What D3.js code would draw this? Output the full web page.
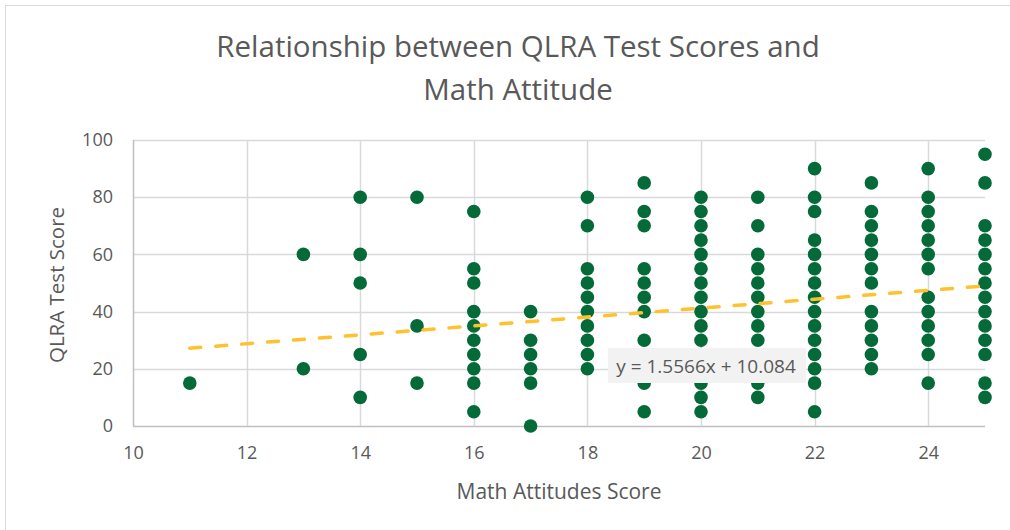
<!DOCTYPE html>
<html>
<head>
<meta charset="utf-8">
<script src="https://cdn.jsdelivr.net/npm/d3@7"></script>
<style>
  body { margin: 0; background: #fff; }
  svg text { font-family: "Open Sans", sans-serif; fill: #595959; }
</style>
</head>
<body>
<svg id="chart"></svg>
<script>
var attitudeScores = [11, 13, 14, 15, 16, 17, 18, 19, 20, 21, 22, 23, 24, 25];
var testScores = [
    [15],
    [60, 20],
    [80, 60, 50, 25, 10],
    [80, 35, 15],
    [75, 55, 50, 40, 35, 30, 25, 20, 15, 5],
    [40, 30, 25, 20, 15, 0],
    [80, 70, 55, 50, 45, 40, 35, 30, 25, 20],
    [85, 75, 70, 55, 50, 45, 40, 30, 20, 15, 5],
    [80, 75, 70, 65, 60, 55, 50, 45, 40, 35, 30, 25, 20, 15, 10, 5],
    [80, 70, 60, 55, 50, 45, 40, 35, 30, 20, 15, 10],
    [90, 80, 75, 65, 60, 55, 50, 45, 40, 35, 30, 25, 20, 15, 5],
    [85, 75, 70, 65, 60, 55, 50, 40, 35, 30, 25, 20],
    [90, 80, 75, 70, 65, 60, 55, 45, 40, 35, 30, 25, 15],
    [95, 85, 70, 65, 60, 55, 50, 45, 40, 35, 30, 25, 15, 10]
];
var xTicks = [10, 12, 14, 16, 18, 20, 22, 24];
var yTicks = [0, 20, 40, 60, 80, 100];
//Trend line from the fitted equation shown on the chart
var trendSlope = 1.5566;
var trendIntercept = 10.084;
var trendLabel = "y = 1.5566x + 10.084";

//Flatten into points
var dataset = [];
attitudeScores.forEach(function(a, i){
    testScores[i].forEach(function(s){
        dataset.push({ x: a, y: s });
    });
});

var dimensions = {
    width: 1010,
    height: 530,
    margin: { top: 140, right: 25, bottom: 104, left: 133 }
};

var xScale = d3.scaleLinear()
    .domain([10, 25])
    .range([dimensions.margin.left, dimensions.width - dimensions.margin.right]);

var yScale = d3.scaleLinear()
    .domain([0, 100])
    .range([dimensions.height - dimensions.margin.bottom, dimensions.margin.top]);

var svg = d3.select("#chart")
    .attr("width", dimensions.width)
    .attr("height", dimensions.height);

//Chart border
svg.append("rect")
    .attr("x", 5.5).attr("y", 5.5)
    .attr("width", 1010).attr("height", 540)
    .attr("fill", "none")
    .attr("stroke", "#d9d9d9");

//Title
var title = svg.append("text")
    .attr("text-anchor", "middle")
    .style("font-size", "29.5px");
title.append("tspan").attr("x", 518).attr("y", 57).text("Relationship between QLRA Test Scores and");
title.append("tspan").attr("x", 518).attr("y", 100).text("Math Attitude");

//Horizontal gridlines
svg.append("g")
    .selectAll("line")
    .data(yTicks)
    .join("line")
    .attr("x1", xScale(10))
    .attr("x2", xScale(25))
    .attr("y1", function(d){ return Math.round(yScale(d)) + 0.5; })
    .attr("y2", function(d){ return Math.round(yScale(d)) + 0.5; })
    .attr("stroke", function(d){ return d === 0 ? "#bfbfbf" : "#d9d9d9"; })
    .attr("stroke-width", 1.5);

//Vertical gridlines
svg.append("g")
    .selectAll("line")
    .data(xTicks)
    .join("line")
    .attr("x1", function(d){ return Math.round(xScale(d)) + 0.5; })
    .attr("x2", function(d){ return Math.round(xScale(d)) + 0.5; })
    .attr("y1", yScale(100))
    .attr("y2", yScale(0))
    .attr("stroke", function(d){ return d === 10 ? "#bfbfbf" : "#d9d9d9"; })
    .attr("stroke-width", 1.5);

//X-axis labels
var xAxis = svg.append("g")
    .attr("transform", "translate(0," + (yScale(0) + 8) + ")")
    .call(d3.axisBottom(xScale).tickValues(xTicks).tickSize(0).tickPadding(12));
xAxis.select(".domain").remove();
xAxis.selectAll("text").style("font-size", "18px").style("font-family", "Open Sans").attr("fill", "#595959");

//Y-axis labels
var yAxis = svg.append("g")
    .attr("transform", "translate(" + (xScale(10) - 20) + ",0)")
    .call(d3.axisLeft(yScale).tickValues(yTicks).tickSize(0).tickPadding(0));
yAxis.select(".domain").remove();
yAxis.selectAll("text").style("font-size", "18px").style("font-family", "Open Sans").attr("fill", "#595959");

//Axis titles
svg.append("text")
    .attr("x", 559)
    .attr("y", 499)
    .attr("text-anchor", "middle")
    .style("font-size", "21px")
    .text("Math Attitudes Score");

svg.append("text")
    .attr("transform", "rotate(-90)")
    .attr("x", -285)
    .attr("y", 64)
    .attr("text-anchor", "middle")
    .style("font-size", "20.5px")
    .text("QLRA Test Score");

//Points
svg.append("g")
    .selectAll("circle")
    .data(dataset)
    .join("circle")
    .attr("cx", function(d){ return xScale(d.x); })
    .attr("cy", function(d){ return yScale(d.y); })
    .attr("r", 6.8)
    .attr("fill", "#046a38");

//Trend line
var xMin = d3.min(attitudeScores), xMax = d3.max(attitudeScores);
svg.append("line")
    .attr("x1", xScale(xMin))
    .attr("y1", yScale(trendSlope * xMin + trendIntercept))
    .attr("x2", xScale(xMax))
    .attr("y2", yScale(trendSlope * xMax + trendIntercept))
    .attr("stroke", "#ffc12e")
    .attr("stroke-width", 3.5)
    .attr("stroke-linecap", "round")
    .attr("stroke-dasharray", "11,15");

//Equation label
svg.append("rect")
    .attr("x", 608).attr("y", 348)
    .attr("width", 198).attr("height", 35)
    .attr("fill", "#f2f2f2");
svg.append("text")
    .attr("x", 706)
    .attr("y", 373)
    .attr("text-anchor", "middle")
    .style("font-size", "19px")
    .text(trendLabel);
</script>
</body>
</html>
